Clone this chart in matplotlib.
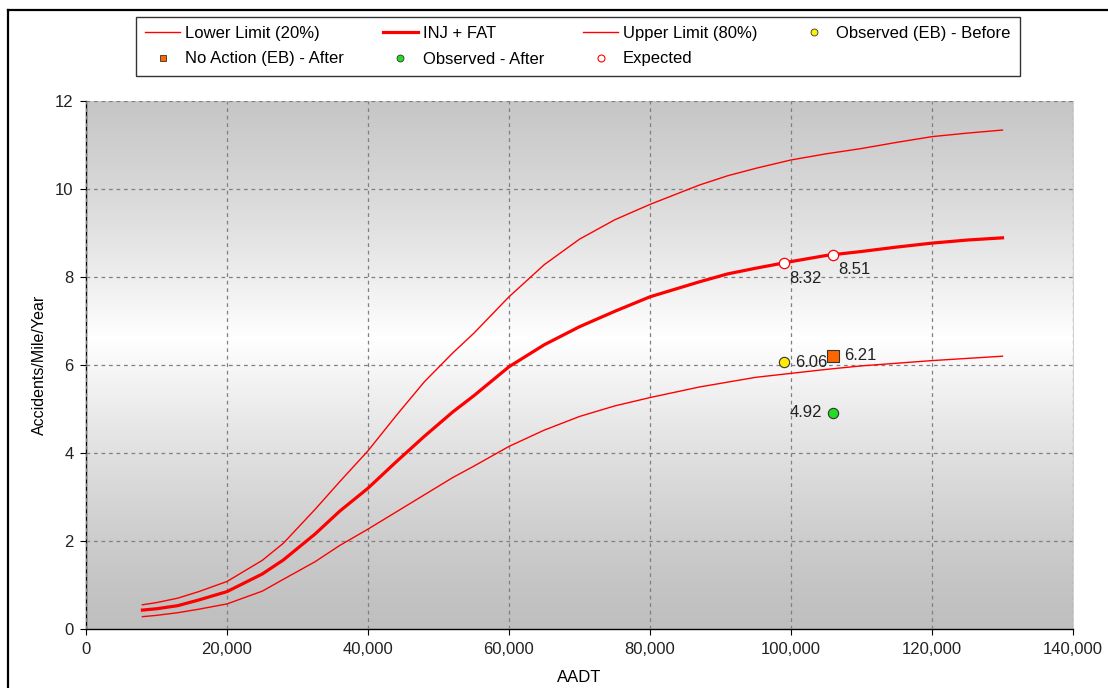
import numpy as np
import matplotlib
matplotlib.use("Agg")
import matplotlib.pyplot as plt
from matplotlib.lines import Line2D

plt.rcParams['font.family'] = ['Liberation Sans', 'DejaVu Sans']

# ---- data ----
aadt = [8000, 10000, 13000, 16000, 20000, 25000, 28000, 32500, 36000, 40000,
        44000, 48000, 52000, 55000, 60000, 65000, 70000, 75000, 80000, 87000,
        91000, 95000, 100000, 105000, 110000, 115000, 120000, 125000, 130000]
upper = [0.55, 0.60, 0.70, 0.85, 1.08, 1.56, 1.95, 2.72, 3.35, 4.05,
         4.85, 5.62, 6.27, 6.72, 7.55, 8.28, 8.86, 9.30, 9.65, 10.09,
         10.30, 10.47, 10.66, 10.80, 10.92, 11.06, 11.19, 11.27, 11.34]
inj_fat = [0.43, 0.46, 0.53, 0.66, 0.85, 1.25, 1.57, 2.16, 2.68, 3.20,
           3.80, 4.38, 4.93, 5.30, 5.96, 6.46, 6.87, 7.22, 7.55, 7.89,
           8.07, 8.20, 8.35, 8.49, 8.58, 8.68, 8.77, 8.84, 8.89]
lower = [0.28, 0.31, 0.37, 0.45, 0.57, 0.86, 1.13, 1.53, 1.90, 2.27,
         2.66, 3.05, 3.44, 3.70, 4.15, 4.52, 4.83, 5.07, 5.26, 5.50,
         5.61, 5.72, 5.81, 5.90, 5.98, 6.04, 6.10, 6.15, 6.20]

obs_before_x = [99000]
obs_before_y = [6.06]
no_action_x = [106000]
no_action_y = [6.21]
obs_after_x = [106000]
obs_after_y = [4.92]
expected_x = [99000, 106000]
expected_y = [8.32, 8.51]

x_ticks = [0, 20000, 40000, 60000, 80000, 100000, 120000, 140000]
y_ticks = [0, 2, 4, 6, 8, 10, 12]

# ---- figure ----
W, H = 1108, 688
fig = plt.figure(figsize=(W / 100, H / 100), dpi=100)
fig.patch.set_facecolor('white')
ax = fig.add_axes([86 / W, 1 - 629 / H, (1073 - 86) / W, (629 - 101) / H])

# gradient background (gray edges, white middle)
t = np.linspace(0, 1, 256)
c = 0.75 + 0.25 * np.clip(1 - np.abs(t - 0.55) / 0.55, 0, 1) ** 1.3
grad = np.dstack([c, c, c])[0][:, None, :]
ax.imshow(grad, extent=[0, 140000, 0, 12], origin='lower', aspect='auto',
          zorder=0, interpolation='bilinear')

ax.set_xlim(0, 140000)
ax.set_ylim(0, 12)
ax.set_xticks(x_ticks)
ax.set_yticks(y_ticks)
ax.set_xticklabels([f"{v:,}" for v in x_ticks])
ax.set_yticklabels([str(v) for v in y_ticks])
ax.tick_params(labelsize=12, length=4, color='black', labelcolor='#222222', pad=5)
ax.grid(True, linestyle=(0, (3, 3)), color='#808080', linewidth=0.9, zorder=1)
ax.set_axisbelow(False)
for s in ['top', 'right']:
    ax.spines[s].set_color('#c8c8c8')
    ax.spines[s].set_linewidth(0.6)
for s in ['left', 'bottom']:
    ax.spines[s].set_color('black')
    ax.spines[s].set_linewidth(1.0)

ax.plot(aadt, lower, color='red', lw=1.0, zorder=3)
ax.plot(aadt, inj_fat, color='red', lw=2.3, zorder=3)
ax.plot(aadt, upper, color='red', lw=1.0, zorder=3)

ax.scatter(obs_before_x, obs_before_y, s=55, marker='o', facecolor='#ffee00',
           edgecolor='#333333', linewidth=0.8, zorder=5)
ax.scatter(no_action_x, no_action_y, s=65, marker='s', facecolor='#ff6600',
           edgecolor='#333333', linewidth=0.8, zorder=5)
ax.scatter(obs_after_x, obs_after_y, s=55, marker='o', facecolor='#22dd22',
           edgecolor='#333333', linewidth=0.8, zorder=5)
ax.scatter(expected_x, expected_y, s=55, marker='o', facecolor='white',
           edgecolor='red', linewidth=0.9, zorder=5)

fs = 12
for x, y in zip(expected_x, expected_y):
    ax.annotate(f"{y:.2f}", (x, y), xytext=(3.5, -11), textcoords='offset points',
                ha='left', va='center', fontsize=fs, color='#222222', zorder=6)
for x, y in zip(obs_before_x, obs_before_y):
    ax.annotate(f"{y:.2f}", (x, y), xytext=(8, 0), textcoords='offset points',
                ha='left', va='center', fontsize=fs, color='#222222', zorder=6)
for x, y in zip(no_action_x, no_action_y):
    ax.annotate(f"{y:.2f}", (x, y), xytext=(8, 0), textcoords='offset points',
                ha='left', va='center', fontsize=fs, color='#222222', zorder=6)
for x, y in zip(obs_after_x, obs_after_y):
    ax.annotate(f"{y:.2f}", (x, y), xytext=(-8, 0), textcoords='offset points',
                ha='right', va='center', fontsize=fs, color='#222222', zorder=6)

ax.set_xlabel("AADT", fontsize=12, labelpad=10)
ax.set_ylabel("Accidents/Mile/Year", fontsize=11.5, labelpad=6)

# legend
h_lower = Line2D([], [], color='red', lw=1.0)
h_inj = Line2D([], [], color='red', lw=2.3)
h_upper = Line2D([], [], color='red', lw=1.0)
h_ob = Line2D([], [], ls='none', marker='o', ms=5, mfc='#ffee00', mec='#333333', mew=0.6)
h_na = Line2D([], [], ls='none', marker='s', ms=5, mfc='#ff6600', mec='#333333', mew=0.6)
h_oa = Line2D([], [], ls='none', marker='o', ms=5, mfc='#22dd22', mec='#333333', mew=0.6)
h_ex = Line2D([], [], ls='none', marker='o', ms=5, mfc='white', mec='red', mew=0.8)
handles = [h_lower, h_na, h_inj, h_oa, h_upper, h_ex, h_ob]
labels = ["Lower Limit (20%)", "No Action (EB) - After", "INJ + FAT",
          "Observed - After", "Upper Limit (80%)", "Expected",
          "Observed (EB) - Before"]
leg = fig.legend(handles, labels, ncol=4, loc='upper left',
                 bbox_to_anchor=(136 / W, 1 - 17 / H, (1020 - 136) / W, 0),
                 mode='expand', frameon=True, fancybox=False, fontsize=12,
                 handlelength=2.1, handletextpad=0.3, borderpad=0.55,
                 labelspacing=0.62, columnspacing=1.0, borderaxespad=0)
leg.get_frame().set_edgecolor('black')
leg.get_frame().set_linewidth(1.0)

# figure border (top and left only)
fig.add_artist(Line2D([7.5 / W, 1.0], [1 - 10 / H, 1 - 10 / H],
                      transform=fig.transFigure, color='black', lw=1.6))
fig.add_artist(Line2D([7.5 / W, 7.5 / W], [0, 1 - 10 / H],
                      transform=fig.transFigure, color='black', lw=1.6))

fig.savefig("out.png", dpi=100)
